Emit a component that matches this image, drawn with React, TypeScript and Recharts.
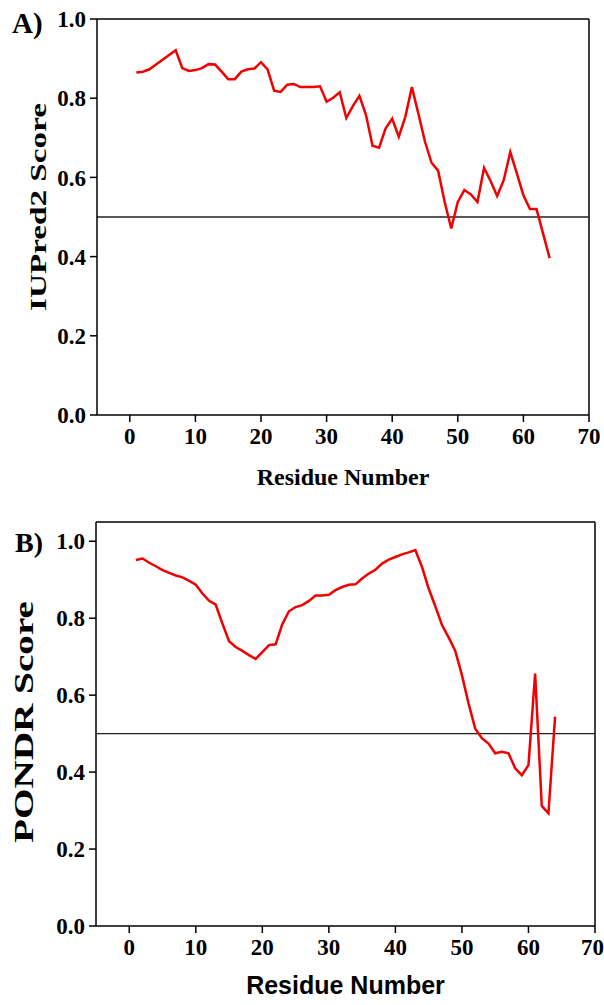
import React from "react";
import { LineChart, Line, XAxis, YAxis, ReferenceLine, Label } from "recharts";

// residue positions 1..64
const residues = [
  1, 2, 3, 4, 5, 6, 7, 8, 9, 10, 11, 12, 13, 14, 15, 16, 17, 18, 19, 20, 21, 22, 23, 24, 25, 26, 27, 28, 29, 30, 31, 32,
  33, 34, 35, 36, 37, 38, 39, 40, 41, 42, 43, 44, 45, 46, 47, 48, 49, 50, 51, 52, 53, 54, 55, 56, 57, 58, 59, 60, 61, 62, 63, 64,
];

const iupredScores = [
  0.865, 0.867, 0.873, 0.885, 0.897, 0.909, 0.921, 0.876, 0.869, 0.871, 0.876, 0.886, 0.885, 0.867, 0.848, 0.848,
  0.867, 0.873, 0.875, 0.891, 0.873, 0.819, 0.816, 0.834, 0.836, 0.828, 0.828, 0.828, 0.83, 0.791, 0.801, 0.815,
  0.75, 0.78, 0.806, 0.758, 0.68, 0.675, 0.724, 0.748, 0.703, 0.753, 0.828, 0.76, 0.69, 0.637, 0.617, 0.538,
  0.471, 0.538, 0.568, 0.557, 0.538, 0.624, 0.591, 0.553, 0.593, 0.664, 0.61, 0.555, 0.52, 0.52, 0.458, 0.396,
];

const pondrScores = [
  0.951, 0.955, 0.944, 0.935, 0.925, 0.918, 0.911, 0.906, 0.897, 0.887, 0.864, 0.845, 0.835, 0.786, 0.74, 0.725,
  0.715, 0.704, 0.694, 0.712, 0.73, 0.732, 0.784, 0.818, 0.829, 0.834, 0.845, 0.859, 0.859, 0.861, 0.873, 0.881,
  0.887, 0.888, 0.903, 0.916, 0.926, 0.942, 0.952, 0.959, 0.966, 0.971, 0.977, 0.933, 0.877, 0.831, 0.782, 0.75,
  0.715, 0.652, 0.578, 0.513, 0.488, 0.474, 0.449, 0.453, 0.449, 0.41, 0.392, 0.418, 0.656, 0.312, 0.293, 0.544,
];

const xTicks = [0, 10, 20, 30, 40, 50, 60, 70];
const yTicks = [0, 0.2, 0.4, 0.6, 0.8, 1.0];
const threshold = 0.5;

const serif = "'Liberation Serif', 'Times New Roman', serif";
const sans = "'Liberation Sans', Arial, sans-serif";
const RED = "#f00000";

const tickStyle = { fontFamily: serif, fontWeight: 700, fontSize: 23, fill: "#000" };

interface PanelProps {
  tag: string;
  tagX: number;
  tagY: number;
  tagSize: number;
  scores: number[];
  yTitle: string;
  yTitleX: number;
  yTitleShift: number;
  yTitleSize: number;
  yTitleLen: number;
  xTitleFont: string;
  xTitleSize: number;
  xTitleY: number;
  height: number;
  top: number;
  yAxisWidth: number;
  rightMargin: number;
  xAxisHeight: number;
  yMax: number;
}

function Panel(p: PanelProps) {
  const data = residues.map((r, i) => ({ residue: r, score: p.scores[i] }));

  return (
    <LineChart
      width={604}
      height={p.height}
      data={data}
      margin={{ top: p.top, right: p.rightMargin, bottom: 0, left: 0 }}
    >
      <XAxis
        dataKey="residue"
        type="number"
        domain={[-5, 70]}
        ticks={xTicks}
        height={p.xAxisHeight}
        tick={tickStyle}
        tickSize={7}
        tickMargin={6}
        axisLine={{ stroke: "#000", strokeWidth: 1.5 }}
        tickLine={{ stroke: "#000", strokeWidth: 1.5 }}
        allowDataOverflow
      >
        <Label
          content={(props: any) => {
            const vb = props.viewBox || {};
            return (
              <text
                x={vb.x + vb.width / 2}
                y={p.xTitleY}
                textAnchor="middle"
                fontFamily={p.xTitleFont}
                fontWeight={700}
                fontSize={p.xTitleSize}
                fill="#000"
              >
                Residue Number
              </text>
            );
          }}
        />
      </XAxis>
      <YAxis
        type="number"
        domain={[0, p.yMax]}
        ticks={yTicks}
        width={p.yAxisWidth}
        tick={tickStyle}
        tickFormatter={(v: number) => v.toFixed(1)}
        tickSize={7}
        tickMargin={4}
        axisLine={{ stroke: "#000", strokeWidth: 1.5 }}
        tickLine={{ stroke: "#000", strokeWidth: 1.5 }}
        allowDataOverflow
      >
        <Label
          content={(props: any) => {
            const vb = props.viewBox || {};
            const cy = vb.y + vb.height / 2 + p.yTitleShift;
            return (
              <g>
                <text
                  x={p.yTitleX}
                  y={cy}
                  transform={`rotate(-90 ${p.yTitleX} ${cy})`}
                  textAnchor="middle"
                  fontFamily={serif}
                  fontWeight={700}
                  fontSize={p.yTitleSize}
                  textLength={p.yTitleLen}
                  lengthAdjust="spacingAndGlyphs"
                  fill="#000"
                >
                  {p.yTitle}
                </text>
                <text
                  x={p.tagX}
                  y={p.tagY}
                  fontFamily={serif}
                  fontWeight={700}
                  fontSize={p.tagSize}
                  fill="#000"
                >
                  {p.tag}
                </text>
              </g>
            );
          }}
        />
      </YAxis>
      {/* frame: top and right edges */}
      <ReferenceLine y={p.yMax} stroke="#000" strokeWidth={1.5} />
      <ReferenceLine x={70} stroke="#000" strokeWidth={1.5} />
      <ReferenceLine y={threshold} stroke="#222" strokeWidth={1.3} />
      <Line
        type="linear"
        dataKey="score"
        stroke={RED}
        strokeWidth={2.5}
        dot={false}
        isAnimationActive={false}
      />
    </LineChart>
  );
}

export default function App() {
  return (
    <div style={{ position: "absolute", left: 0, top: 0, width: 604, height: 1005, background: "#fff" }}>
      <div style={{ position: "absolute", left: 0, top: 0 }}>
        <Panel
          tag="A)"
          tagX={12}
          tagY={33}
          tagSize={29}
          scores={iupredScores}
          yTitle="IUPred2 Score"
          yTitleX={46}
          yTitleShift={-10}
          yTitleSize={24}
          yTitleLen={208}
          xTitleFont={serif}
          xTitleSize={24}
          xTitleY={485}
          height={490}
          top={19}
          yAxisWidth={97}
          rightMargin={15}
          xAxisHeight={75}
          yMax={1.0}
        />
      </div>
      <div style={{ position: "absolute", left: 0, top: 490 }}>
        <Panel
          tag="B)"
          tagX={15}
          tagY={62}
          tagSize={28}
          scores={pondrScores}
          yTitle="PONDR Score"
          yTitleX={33}
          yTitleShift={-2}
          yTitleSize={27}
          yTitleLen={242}
          xTitleFont={sans}
          xTitleSize={25}
          xTitleY={504}
          height={515}
          top={32}
          yAxisWidth={96}
          rightMargin={9}
          xAxisHeight={79}
          yMax={1.05}
        />
      </div>
    </div>
  );
}
